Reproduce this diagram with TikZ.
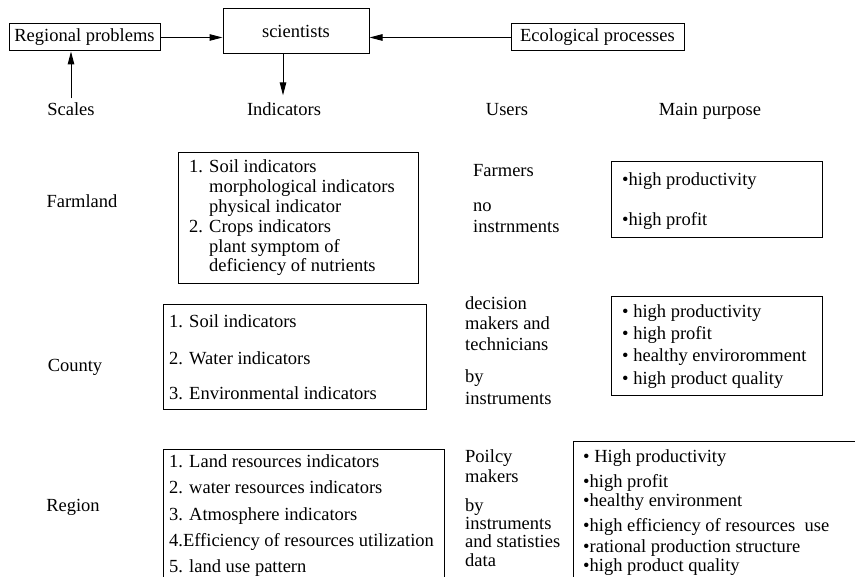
\documentclass[tikz,border=0pt]{standalone}
\usepackage{fontspec}
\setmainfont{Liberation Serif}
\usetikzlibrary{arrows.meta}
\begin{document}
\begin{tikzpicture}[x=1pt,y=-1pt,
  font=\fontsize{18.5}{20}\selectfont,
  box/.style={draw, line width=1pt, inner sep=0pt, text height=13pt, text depth=4pt},
  txt/.style={inner sep=0pt, anchor=west, text height=13pt, text depth=4pt},
  ctr/.style={inner sep=0pt, text height=13pt, text depth=4pt},
  arr/.style={line width=1pt, -{Triangle[length=13pt,width=6.5pt]}}]
\useasboundingbox (0,0) rectangle (855,577);
\clip (0,0) rectangle (855,577);

% top row
\node[box, minimum width=151pt, minimum height=27pt] (rp) at (84.5,37.5) {Regional problems};
\node[box, minimum width=146pt, minimum height=45pt] (sci) at (296,31.5) {};
\node[ctr] (scit) at (296,33) {scientists};
\node[box, minimum width=173pt, minimum height=27pt] (eco) at (597.5,37.5) {Ecological processes};

% headers
\node[ctr] (scales) at (71,111) {Scales};
\node[ctr] (ind) at (284,111) {Indicators};
\node[ctr] (users) at (507,111) {Users};
\node[ctr] (purp) at (710,111) {Main purpose};

\draw[arr] (rp.east) -- (rp.east -| sci.west);
\draw[arr] (eco.west) -- (eco.west -| sci.east);
\draw[arr] ([xshift=-13pt]sci.south) -- ([xshift=-13pt,yshift=7pt]sci.south |- ind.north);
\draw[arr] ([yshift=4pt]scales.north) -- (scales.north |- rp.south);

% row labels
\node[ctr] (farm) at (82,203) {Farmland};
\node[ctr] (county) at (75,367) {County};
\node[ctr] (region) at (73,507) {Region};

% Farmland
\node[box, minimum width=240pt, minimum height=131pt] (fi) at (298,218.5) {};
\node[txt] (fi1) at (189,168) {1. Soil indicators};
\node[txt] (fi2) at (209,188) {morphological indicators};
\node[txt] (fi3) at (209,208) {physical indicator};
\node[txt] (fi4) at (189,228) {2. Crops indicators};
\node[txt] (fi5) at (209,248) {plant symptom of};
\node[txt] (fi6) at (209,267) {deficiency of nutrients};

\node[txt] (fu1) at (473,172) {Farmers};
\node[txt] (fu2) at (473,207) {no};
\node[txt] (fu3) at (473,228) {instrnments};

\node[box, minimum width=211pt, minimum height=76pt] (fp) at (716.5,200) {};
\node[txt] (fp1) at (622,181) {•high productivity};
\node[txt] (fp2) at (622,221) {•high profit};

% County
\node[box, minimum width=263pt, minimum height=105pt] (ci) at (294.5,357.5) {};
\node[txt] (ci1) at (169,323) {1. Soil indicators};
\node[txt] (ci2) at (169,360) {2. Water indicators};
\node[txt] (ci3) at (169,395) {3. Environmental indicators};

\node[txt] (cu1) at (465,305) {decision};
\node[txt] (cu2) at (465,325) {makers and};
\node[txt] (cu3) at (465,346) {technicians};
\node[txt] (cu4) at (465,378) {by};
\node[txt] (cu5) at (465,400) {instruments};

\node[box, minimum width=211pt, minimum height=99pt] (cp) at (716.5,346.5) {};
\node[txt] (cp1) at (622,313) {• high productivity};
\node[txt] (cp2) at (622,335) {• high profit};
\node[txt] (cp3) at (622,357) {• healthy enviroromment};
\node[txt] (cp4) at (622,380) {• high product quality};

% Region
\node[box, minimum width=281pt, minimum height=150pt] (ri) at (303.5,525) {};
\node[txt] (ri1) at (169,463) {1. Land resources indicators};
\node[txt] (ri2) at (169,489) {2. water resources indicators};
\node[txt] (ri3) at (169,516) {3. Atmosphere indicators};
\node[txt] (ri4) at (169,542) {4.Efficiency of resources utilization};
\node[txt] (ri5) at (169,568) {5. land use pattern};

\node[txt] (ru1) at (465,458) {Poilcy};
\node[txt] (ru2) at (465,478) {makers};
\node[txt] (ru3) at (465,507) {by};
\node[txt] (ru4) at (465,525) {instruments};
\node[txt] (ru5) at (465,543) {and statisties};
\node[txt] (ru6) at (465,562) {data};

\node[box, minimum width=297pt, minimum height=158pt] (rp2) at (721.5,521) {};
\node[txt] (rpu1) at (583,458) {• High productivity};
\node[txt] (rpu2) at (583,483) {•high profit};
\node[txt] (rpu3) at (583,502) {•healthy environment};
\node[txt] (rpu4) at (583,527) {•high efficiency of resources\ \ use};
\node[txt] (rpu5) at (583,548) {•rational production structure};
\node[txt] (rpu6) at (583,567) {•high product quality};
\end{tikzpicture}
\end{document}
